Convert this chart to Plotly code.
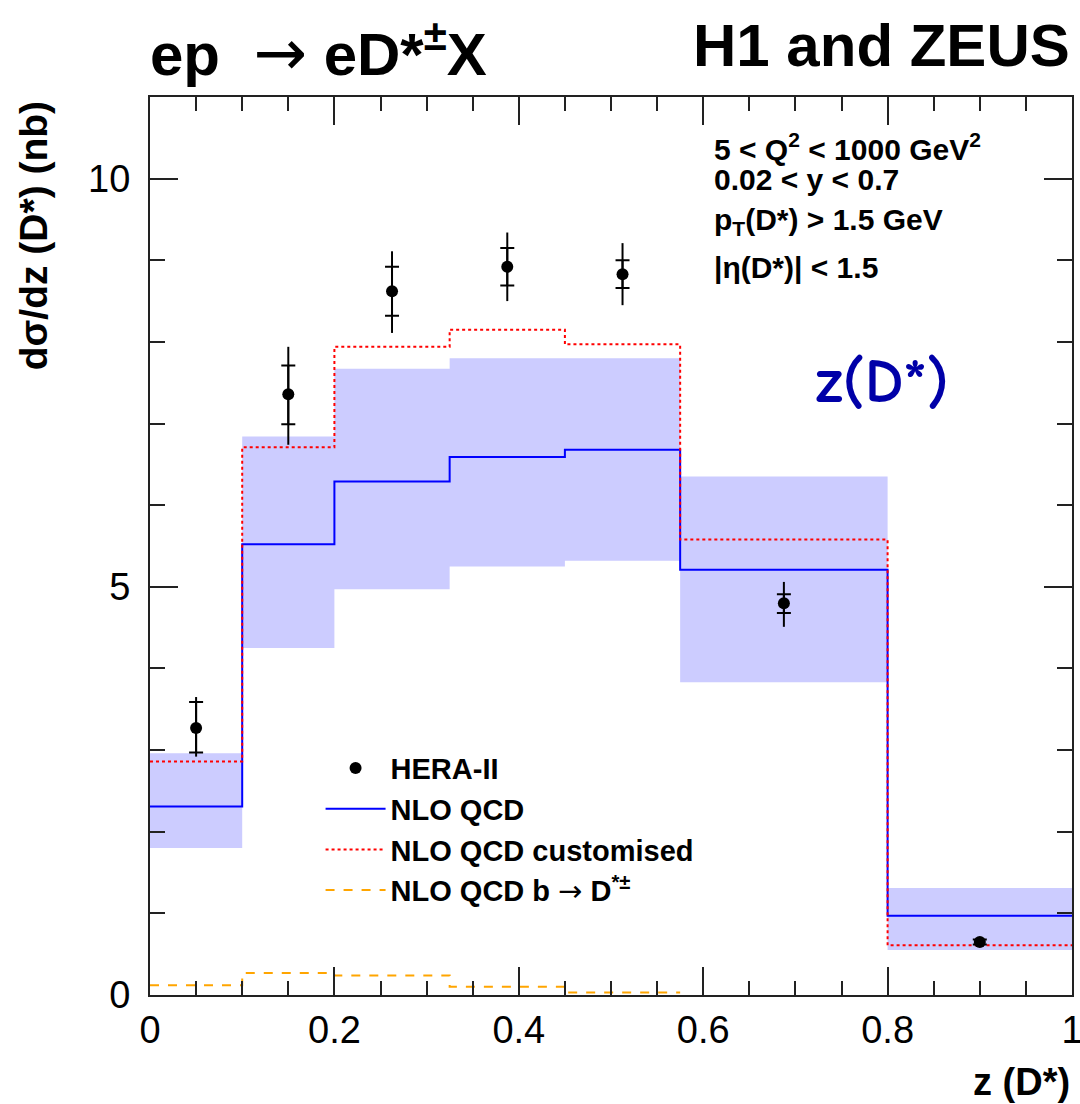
import plotly.graph_objects as go

# ---------------- data ----------------
bin_edges = [0.0, 0.1, 0.2, 0.325, 0.45, 0.575, 0.8, 1.0]
nlo_central = [2.31, 5.52, 6.29, 6.59, 6.68, 5.21, 0.97]
nlo_upper = [2.96, 6.84, 7.67, 7.80, 7.80, 6.35, 1.31]
nlo_lower = [1.80, 4.25, 4.97, 5.25, 5.32, 3.83, 0.55]
nlo_custom = [2.86, 6.71, 7.94, 8.15, 7.97, 5.58, 0.61]
beauty_edges = [0.0, 0.1, 0.2, 0.325, 0.45, 0.575]
nlo_beauty = [0.12, 0.27, 0.24, 0.10, 0.03]

z_points = [0.05, 0.15, 0.2625, 0.3875, 0.5125, 0.6875, 0.9]
xsec = [3.27, 7.36, 8.62, 8.92, 8.83, 4.80, 0.65]
tot_plus = [0.38, 0.58, 0.49, 0.42, 0.38, 0.26, 0.05]
tot_minus = [0.35, 0.62, 0.51, 0.42, 0.38, 0.29, 0.05]
stat_plus = [0.32, 0.35, 0.30, 0.23, 0.17, 0.11, 0.03]
stat_minus = [0.30, 0.37, 0.30, 0.23, 0.17, 0.12, 0.03]

x_ticks = [0, 0.2, 0.4, 0.6, 0.8, 1.0]
x_ticklabels = ["0", "0.2", "0.4", "0.6", "0.8", "1"]
y_ticks = [0, 5, 10]
y_ticklabels = ["0", "5", "10"]

FONT = "Liberation Sans, Arial, Helvetica, sans-serif"


def step(vals):
    return list(vals) + [vals[-1]]


fig = go.Figure()

# uncertainty band
fig.add_trace(go.Scatter(x=bin_edges, y=step(nlo_lower), mode="lines",
                         line=dict(width=0, shape="hv", color="#ccccff"),
                         showlegend=False, hoverinfo="skip"))
fig.add_trace(go.Scatter(x=bin_edges, y=step(nlo_upper), mode="lines",
                         line=dict(width=0, shape="hv", color="#ccccff"),
                         fill="tonexty", fillcolor="#ccccff",
                         showlegend=False, hoverinfo="skip"))
# NLO central
fig.add_trace(go.Scatter(x=bin_edges, y=step(nlo_central), mode="lines",
                         line=dict(color="#0000ff", width=2, shape="hv"),
                         name="NLO QCD", legendrank=2))
# customised
fig.add_trace(go.Scatter(x=bin_edges, y=step(nlo_custom), mode="lines",
                         line=dict(color="#ff0000", width=2, shape="hv", dash="dot"),
                         name="NLO QCD customised", legendrank=3))
# beauty
fig.add_trace(go.Scatter(x=beauty_edges, y=step(nlo_beauty), mode="lines",
                         line=dict(color="#ffa500", width=2, shape="hv", dash="dash"),
                         name="NLO QCD b <span style=\"font-family:DejaVu Sans;font-weight:normal\">\u2192</span> D<sup>*\u00b1</sup>",
                         legendrank=4))
# data: total errors
fig.add_trace(go.Scatter(x=z_points, y=xsec, mode="markers",
                         marker=dict(color="black", size=12),
                         error_y=dict(type="data", symmetric=False,
                                      array=tot_plus, arrayminus=tot_minus,
                                      color="black", thickness=2, width=0),
                         name="HERA-II", legendrank=1))
# data: statistical error ticks
fig.add_trace(go.Scatter(x=z_points, y=xsec, mode="markers",
                         marker=dict(color="black", size=1, opacity=0),
                         error_y=dict(type="data", symmetric=False,
                                      array=stat_plus, arrayminus=stat_minus,
                                      color="black", thickness=2, width=7),
                         showlegend=False, hoverinfo="skip"))

axis_common = dict(showline=True, linecolor="#222222", linewidth=2, mirror="ticks",
                   ticks="inside", tickcolor="#222222", tickwidth=2, ticklen=28,
                   showgrid=False, zeroline=False, ticklabeloverflow="allow",
                   automargin=False,
                   tickfont=dict(family=FONT, size=38, color="black"))

fig.update_xaxes(range=[0, 1], tickvals=x_ticks, ticktext=x_ticklabels,
                 minor=dict(dtick=0.05, ticks="inside", ticklen=14, tickwidth=2,
                            tickcolor="#222222", showgrid=False),
                 ticklabelstandoff=0, **axis_common)
fig.update_yaxes(range=[0, 11], tickvals=y_ticks, ticktext=y_ticklabels,
                 minor=dict(dtick=1, ticks="inside", ticklen=15, tickwidth=2,
                            tickcolor="#222222", showgrid=False),
                 ticklabelstandoff=10, **axis_common)

ann = []
arrow = "<span style=\"font-family:DejaVu Sans;font-weight:normal;font-size:64px\">\u2192</span>"
ann.append(dict(text="<b>ep  " + arrow + " eD*<sup>\u00b1</sup>X</b>", x=-0.002, y=1.097,
                xref="paper", yref="paper", xanchor="left", yanchor="top",
                showarrow=False, font=dict(family=FONT, size=60, color="black")))
ann.append(dict(text="<b>H1 and ZEUS</b>", x=1.0, y=1.097,
                xref="paper", yref="paper", xanchor="right", yanchor="top",
                showarrow=False, font=dict(family=FONT, size=60, color="black")))
ann.append(dict(text="<b>d\u03c3/dz (D*) (nb)</b>", x=-0.127, y=0.846,
                xref="paper", yref="paper", xanchor="center", yanchor="middle",
                textangle=-90, showarrow=False,
                font=dict(family=FONT, size=39, color="black")))
ann.append(dict(text="<b>z (D*)</b>", x=1.0, y=-0.097,
                xref="paper", yref="paper", xanchor="right", yanchor="middle",
                showarrow=False, font=dict(family=FONT, size=38, color="black")))

cuts = ["5 &lt; Q<sup>2</sup> &lt; 1000 GeV<sup>2</sup>",
        "0.02 &lt; y &lt; 0.7",
        "p<sub>T</sub>(D*) &gt; 1.5 GeV",
        "|\u03b7(D*)| &lt; 1.5"]
cut_y = [0.944, 0.9076, 0.861, 0.8096]
for t, yy in zip(cuts, cut_y):
    ann.append(dict(text="<b>" + t + "</b>", x=0.6095, y=yy,
                    xref="paper", yref="paper", xanchor="left", yanchor="middle",
                    showarrow=False, font=dict(family=FONT, size=30, color="black")))

ann.append(dict(text="<b>z(D*)</b>", x=0.795, y=0.6826,
                xref="paper", yref="paper", xanchor="center", yanchor="middle",
                showarrow=False,
                font=dict(family="Comic Sans MS, Comic Neue, Noto Sans, sans-serif",
                          size=62, color="#0000a8")))

fig.update_layout(
    width=1080, height=1104,
    margin=dict(l=150, r=8, t=97, b=109, autoexpand=False),
    paper_bgcolor="white", plot_bgcolor="white",
    annotations=ann,
    showlegend=True,
    legend=dict(x=0.185, y=0.281, xanchor="left", yanchor="top",
                bgcolor="rgba(0,0,0,0)", borderwidth=0, itemwidth=60,
                font=dict(family=FONT, size=29, color="black", weight="bold"),
                traceorder="normal"),
)

# remove the default page margin so the figure fills the window exactly
fig.write_html("out.html",
               config={"displayModeBar": False},
               post_script="document.body.style.margin='0';document.body.style.overflow='hidden';")
